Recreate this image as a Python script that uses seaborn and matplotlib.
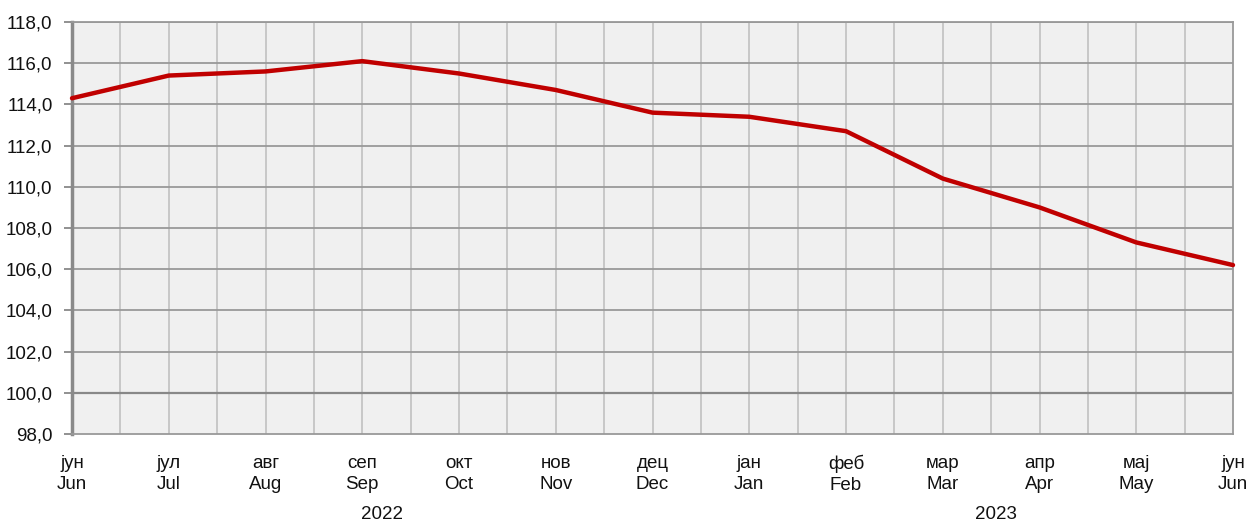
import matplotlib
matplotlib.use("Agg")
import matplotlib.pyplot as plt
import seaborn as sns
import pandas as pd
import numpy as np

months_sr = ["јун", "јул", "авг", "сеп", "окт", "нов", "дец", "јан", "феб", "мар", "апр", "мај", "јун"]
months_en = ["Jun", "Jul", "Aug", "Sep", "Oct", "Nov", "Dec", "Jan", "Feb", "Mar", "Apr", "May", "Jun"]
values = [114.3, 115.4, 115.6, 116.1, 115.5, 114.7, 113.6, 113.4, 112.7, 110.4, 109.0, 107.3, 106.2]
years = ["2022", "2023"]
y_ticks = [98, 100, 102, 104, 106, 108, 110, 112, 114, 116, 118]

sns.set_style("white")
plt.rcParams['font.family'] = ['Liberation Sans', 'DejaVu Sans']

df = pd.DataFrame({"idx": np.arange(len(values)), "value": values})

fig = plt.figure(figsize=(12.47, 5.22), dpi=100)
ax = fig.add_axes([72/1247, 1-434/522, (1233-72)/1247, (434-22)/522])
ax.set_facecolor("#f0f0f0")

n = len(values)
ax.set_xlim(0, n - 1)
ax.set_ylim(98, 118)

# vertical grid at half-months
for xv in np.arange(0.5, n - 1, 0.5):
    ax.axvline(xv, color="#c4c4c4", lw=1.3, zorder=1)
for yv in y_ticks[1:]:
    ax.axhline(yv, color="#999999" if yv != 100 else "#888888", lw=1.3 if yv != 100 else 1.6, zorder=1)

sns.lineplot(data=df, x="idx", y="value", ax=ax, color="#c00000", lw=3.2, zorder=3, clip_on=False)

fs = 13.5
ax.set_yticks(y_ticks)
ax.set_yticklabels([f"{v:.1f}".replace(".", ",") for v in y_ticks], fontsize=fs, color="#111111")
ax.set_xticks(np.arange(n))
ax.set_xticklabels([f"{s}\n{e}" for s, e in zip(months_sr, months_en)], fontsize=fs, linespacing=1.3, color="#111111")
ax.tick_params(axis="y", length=6, width=1.3, color="#888888", pad=8, direction="out", left=True)
ax.tick_params(axis="x", length=0, pad=15)
ax.set_xlabel("")
ax.set_ylabel("")

for side in ["left", "right", "bottom", "top"]:
    ax.spines[side].set_visible(True)
    ax.spines[side].set_color("#999999")
    ax.spines[side].set_linewidth(1.3)
ax.spines["left"].set_linewidth(2.5)
ax.spines["left"].set_color("#8a8a8a")

ax.text(3.2, -0.195, years[0], transform=ax.get_xaxis_transform(), ha="center", va="center", fontsize=fs, color="#111111")
ax.text(9.55, -0.195, years[1], transform=ax.get_xaxis_transform(), ha="center", va="center", fontsize=fs, color="#111111")

fig.savefig("out.png", dpi=100)
